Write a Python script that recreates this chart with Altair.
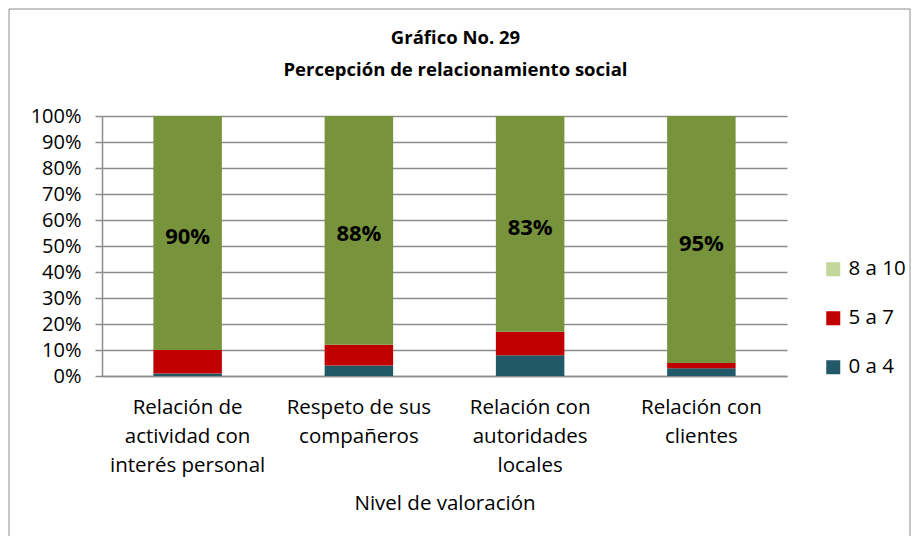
import altair as alt
import pandas as pd

categories = [
    "Relación de\nactividad con\ninterés personal",
    "Respeto de sus\ncompañeros",
    "Relación con\nautoridades\nlocales",
    "Relación con\nclientes",
]
levels = ["0 a 4", "5 a 7", "8 a 10"]
v_0a4 = [0.01, 0.04, 0.08, 0.03]
v_5a7 = [0.09, 0.08, 0.09, 0.02]
v_8a10 = [0.90, 0.88, 0.83, 0.95]
label_texts = ["90%", "88%", "83%", "95%"]
y_ticks = [0.0, 0.1, 0.2, 0.3, 0.4, 0.5, 0.6, 0.7, 0.8, 0.9, 1.0]

bar_colors = ["#215968", "#C00000", "#77933C"]
legend_colors = ["#C3D69B", "#C00000", "#215968"]
legend_order = ["8 a 10", "5 a 7", "0 a 4"]

FONT = "Open Sans"

rows = []
for i, c in enumerate(categories):
    for j, (lev, vals) in enumerate(zip(levels, [v_0a4, v_5a7, v_8a10])):
        rows.append({"cat": c, "level": lev, "value": vals[i], "ord": j})
df = pd.DataFrame(rows)

lab = pd.DataFrame({
    "cat": categories,
    "mid": [a + b + g / 2 for a, b, g in zip(v_0a4, v_5a7, v_8a10)],
    "txt": label_texts,
})
leg = pd.DataFrame({"level": legend_order})

y_scale = alt.Scale(domain=[0, 1], nice=False)


def y_axis():
    return alt.Axis(
        title=None, format=".0%", values=y_ticks,
        labelFontSize=20, labelFont=FONT, labelColor="#000000", labelPadding=14,
        labelOverlap=False,
        tickSize=7, tickColor="#8c8c8c", tickWidth=1.5,
        grid=True, gridColor="#8c8c8c", gridWidth=1.5,
        domain=True, domainColor="#8c8c8c", domainWidth=1.5,
    )


def x_axis():
    return alt.Axis(
        title="Nivel de valoración",
        labelExpr="split(datum.label, '\\n')",
        labelAngle=0, labelFontSize=20.5, labelFont=FONT, labelColor="#000000",
        labelLineHeight=29, labelPadding=21, labelBaseline="top",
        ticks=False, domain=True, domainColor="#8c8c8c", domainWidth=1.5,
        titleFontSize=20.5, titleFont=FONT, titleFontWeight="normal", titleColor="#000000",
        titlePadding=18,
    )


x_scale = alt.Scale(paddingInner=0.6, paddingOuter=0.3)

bars = alt.Chart(df).mark_bar().encode(
    x=alt.X("cat:N", sort=categories, scale=x_scale, axis=x_axis()),
    y=alt.Y("value:Q", stack="zero", scale=y_scale, axis=y_axis()),
    color=alt.Color("level:N", scale=alt.Scale(domain=levels, range=bar_colors), legend=None),
    order=alt.Order("ord:Q"),
)

texts = alt.Chart(lab).mark_text(
    font=FONT, fontSize=22, fontWeight="bold", color="#000000", baseline="middle", dy=4
).encode(
    x=alt.X("cat:N", sort=categories, scale=x_scale, axis=x_axis()),
    y=alt.Y("mid:Q", scale=y_scale, axis=y_axis()),
    text="txt:N",
)

legend_layer = alt.Chart(leg).mark_point(shape="square", filled=True, opacity=0).encode(
    x=alt.value(0), y=alt.value(0),
    fill=alt.Fill(
        "level:N",
        scale=alt.Scale(domain=legend_order, range=legend_colors),
        legend=alt.Legend(
            title=None, orient="none", legendX=721, legendY=143,
            symbolType="square", symbolSize=196, symbolOpacity=1, symbolStrokeWidth=0,
            labelFontSize=20.5, labelFont=FONT, labelColor="#000000",
            rowPadding=28, labelOffset=5,
        ),
    ),
)

border = alt.Chart(pd.DataFrame({"a": [0]})).mark_rect(
    fill=None, stroke="#8c8c8c", strokeWidth=1, clip=False
).encode(
    x=alt.value(-93), x2=alt.value(808), y=alt.value(-107), y2=alt.value(421)
)

chart = alt.layer(border, bars, texts, legend_layer).resolve_scale(
    color="independent", fill="independent"
).properties(
    width=685, height=260,
    autosize=alt.AutoSizeParams(type="none"),
    padding={"left": 94, "top": 108, "right": 125, "bottom": 160},
    title=alt.TitleParams(
        text=["Gráfico No. 29", "Percepción de relacionamiento social"],
        font=FONT, fontSize=18.5, fontWeight="bold", color="#000000",
        anchor="middle", lineHeight=32, offset=0, dy=71, dx=11,
    ),
).configure_view(stroke=None)

chart.save("out.html", embed_options={"renderer": "svg", "actions": False})
